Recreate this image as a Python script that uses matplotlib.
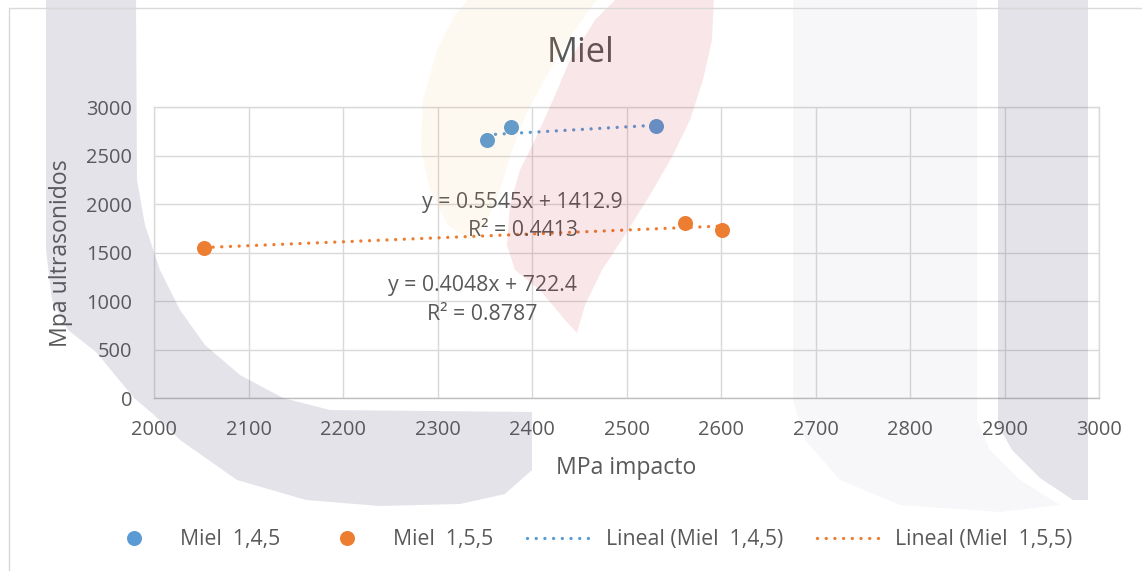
import matplotlib
matplotlib.use("Agg")
import matplotlib.pyplot as plt
from matplotlib.patches import Polygon
from matplotlib.lines import Line2D

plt.rcParams['font.family'] = ['Open Sans', 'DejaVu Sans']

# ---- chart content ----
title = "Miel"
x_label = "MPa impacto"
y_label = "Mpa ultrasonidos"

s145_name = "Miel  1,4,5"
s145_x = [2352, 2378, 2531]
s145_y = [2663, 2800, 2807]

s155_name = "Miel  1,5,5"
s155_x = [2053, 2562, 2601]
s155_y = [1552, 1809, 1734]

# linear trendlines: slope, intercept, R²
fit145 = (0.5545, 1412.9, 0.4413)
fit155 = (0.4048, 722.4, 0.8787)

x_ticks = [2000, 2100, 2200, 2300, 2400, 2500, 2600, 2700, 2800, 2900, 3000]
y_ticks = [0, 500, 1000, 1500, 2000, 2500, 3000]

BLUE = "#5B9BD5"
ORANGE = "#ED7D31"
TEXT = "#595959"
GRID = "#D9D9D9"

W, H = 1142, 571
fig = plt.figure(figsize=(W / 100, H / 100), dpi=100)
fig.patch.set_facecolor("white")

# plot area (pixel box 154..1099 x 107..398)
ax = fig.add_axes([154.3 / W, (H - 398.0) / H, (1099.0 - 154.3) / W, (398.0 - 107.4) / H])
ax.set_facecolor("none")
ax.set_xlim(x_ticks[0], x_ticks[-1])
ax.set_ylim(y_ticks[0], y_ticks[-1])
ax.set_xticks(x_ticks)
ax.set_yticks(y_ticks)
ax.grid(True, color=GRID, lw=1.0)
ax.set_axisbelow(True)
for side in ("left", "right", "top"):
    ax.spines[side].set_color(GRID)
    ax.spines[side].set_linewidth(1.0)
ax.spines["bottom"].set_color("#BFBFBF")
ax.spines["bottom"].set_linewidth(1.0)
ax.tick_params(length=0, labelsize=14.4, colors=TEXT)
ax.tick_params(axis="x", pad=16)
ax.tick_params(axis="y", pad=16)

dot_style = dict(lw=2.4, ls=(0, (0.01, 2.6)), dash_capstyle="round")


def trend(ax, xs, fit, color):
    m, b, _ = fit
    x0, x1 = min(xs), max(xs)
    ax.plot([x0, x1], [m * x0 + b, m * x1 + b], color=color, zorder=3, **dot_style)


trend(ax, s145_x, fit145, BLUE)
trend(ax, s155_x, fit155, ORANGE)
ax.scatter(s145_x, s145_y, s=117, color=BLUE, zorder=4, linewidths=0)
ax.scatter(s155_x, s155_y, s=117, color=ORANGE, zorder=4, linewidths=0)


def eq_label(ax, fit, x, y_eq, y_r2):
    m, b, r2 = fit
    ax.text(x, y_eq, f"y = {m}x + {b}", ha="center", va="center", fontsize=15.3, color=TEXT, zorder=5)
    ax.text(x, y_r2, f"R² = {r2}", ha="center", va="center", fontsize=15.3, color=TEXT, zorder=5)


eq_label(ax, fit145, 2390, 2023, 1734)
eq_label(ax, fit155, 2347, 1166, 857)

ax.set_xlabel(x_label, fontsize=16.6, color=TEXT)
ax.xaxis.set_label_coords(0.5, (398 - 468) / 290.6)
ax.xaxis.label.set_va("center")
ax.set_ylabel(y_label, fontsize=16.6, color=TEXT)
ax.yaxis.set_label_coords((61 - 154.3) / 944.7, 0.5)
ax.yaxis.label.set_va("center")

fig.text(581 / W, 1 - 53 / H, title, ha="center", va="center", fontsize=24.8, color=TEXT)

handles = [
    Line2D([], [], ls="none", marker="o", markersize=10.8, color=BLUE, markeredgewidth=0),
    Line2D([], [], ls="none", marker="o", markersize=10.8, color=ORANGE, markeredgewidth=0),
    Line2D([], [], color=BLUE, **dot_style),
    Line2D([], [], color=ORANGE, **dot_style),
]
labels = [s145_name, s155_name, f"Lineal ({s145_name})", f"Lineal ({s155_name})"]
fig.legend(handles, labels, loc="center", bbox_to_anchor=(587 / W, 1 - 540 / H), ncol=4,
           frameon=False, fontsize=15.3, handlelength=3.1, handletextpad=0.6,
           columnspacing=1.6, labelcolor=TEXT, borderpad=0, borderaxespad=0)

# ---- background emblem, laid over the chart as a light tint ----
wm = fig.add_axes([0, 0, 1, 1], zorder=10)
wm.set_xlim(0, W)
wm.set_ylim(H, 0)
wm.axis("off")
wm.patch.set_alpha(0)

band_left = [(46, -5), (46, 250), (52, 300), (68, 330), (96, 352), (134, 398), (153, 414),
             (180, 440), (237, 480), (306, 500), (380, 506), (460, 504), (505, 494), (532, 470),
             (532, 412), (330, 410), (283, 398), (240, 375), (205, 345), (180, 310), (160, 270),
             (145, 225), (137, 180), (136, -5)]
band_right = [(998, -5), (1088, -5), (1088, 500), (1073, 500), (1040, 478), (1012, 450), (998, 425)]
haze_right = [(793, -5), (977, -5), (977, 420), (990, 450), (1020, 480), (1060, 505), (1000, 512),
              (900, 505), (840, 480), (805, 440), (793, 400)]
leaf_yellow = [(472, -5), (600, -5), (575, 30), (550, 70), (528, 110), (512, 150), (500, 190),
               (485, 225), (470, 240), (448, 225), (430, 190), (421, 150), (423, 100), (437, 50),
               (455, 15)]
leaf_red = [(620, -5), (714, -5), (712, 40), (703, 80), (690, 120), (673, 155), (650, 195),
            (625, 235), (602, 270), (585, 305), (577, 333), (565, 320), (540, 290), (515, 270),
            (507, 245), (510, 205), (520, 170), (535, 140), (553, 100), (570, 60), (595, 20)]

for pts, col, a in [(band_left, "#56567C", 0.16), (band_right, "#56567C", 0.16),
                    (haze_right, "#69698A", 0.05), (leaf_yellow, "#F0A030", 0.07),
                    (leaf_red, "#CD1E2F", 0.11)]:
    wm.add_patch(Polygon(pts, closed=True, facecolor=col, alpha=a, edgecolor="none"))

# chart frame
wm.plot([9, 9, W + 5], [H + 5, 8, 8], color=GRID, lw=1.0)

fig.savefig("out.png", dpi=100)
